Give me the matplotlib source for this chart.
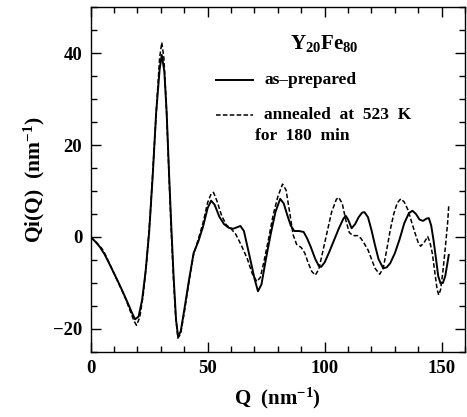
import matplotlib
matplotlib.use("Agg")
import matplotlib.pyplot as plt
from matplotlib.ticker import MultipleLocator
import numpy as np

# as-prepared (solid)
q_prep = [0, 2, 4, 6, 8, 10, 12, 14, 16, 17.5, 19, 20.5, 22, 23.5, 25, 26.5, 28, 29.5,
          30.4, 31.5, 32.5, 33.5, 34.5, 35.5, 36.5, 37.4, 38.5, 40, 42, 44, 46, 48, 50,
          51.5, 53, 55, 57, 59, 61, 62.5, 64, 65.5, 67, 68.5, 70, 71.5, 73, 75, 77, 79,
          81, 82.5, 84, 85.5, 87, 89, 91, 92.5, 94, 96, 97.5, 98.5, 100, 102, 104, 106,
          108, 109, 110, 111.5, 113, 114.5, 116, 117, 118.5, 120, 121.5, 123, 125, 126.5,
          128, 130, 132, 134, 136, 137.5, 139, 140.5, 142, 143.5, 144.5, 145.5, 146.5,
          147.5, 148.5, 149.5, 150.5, 151.5, 152.5, 153]
i_prep = [0, -1.0, -2.2, -3.8, -5.8, -7.9, -10.0, -12.2, -14.5, -16.3, -17.9, -17.3, -13.7,
          -7.5, 1.0, 13, 27, 36.5, 39.6, 36, 27, 14, 2, -9, -18, -21.7, -20.5, -15.9, -9.5,
          -3.5, -1.0, 2.2, 6.3, 7.9, 7.0, 4.4, 2.8, 2.0, 1.8, 2.1, 2.4, 1.3, -2.1, -5.5,
          -9.0, -11.8, -10.3, -4.5, 0.8, 5.5, 8.3, 7.3, 4.8, 2.5, 1.3, 1.3, 1.1, -0.3, -2.1,
          -4.8, -6.3, -6.5, -5.5, -3.2, -0.7, 1.8, 4.0, 4.6, 3.8, 1.9, 2.8, 4.3, 5.3, 5.4,
          4.3, 1.5, -1.8, -4.8, -6.8, -6.6, -5.7, -3.5, -0.5, 3.0, 5.2, 5.7, 5.0, 3.8, 3.5,
          4.0, 4.1, 2.5, -0.7, -4.5, -8.5, -10.1, -10.0, -8.5, -5.5, -3.9]

# annealed at 523 K for 180 min (dashed)
q_ann = [0, 2, 4, 5.5, 7, 9, 11, 13, 15, 17, 18.5, 19.6, 21, 22.5, 24, 25.5, 27, 28.5,
         29.5, 30.4, 31.3, 32.3, 33.3, 34.3, 35.3, 36.3, 37.3, 38.5, 40, 42, 44, 46, 48,
         50, 51.5, 52.5, 54, 56, 58, 60, 62, 63.5, 65, 67, 69, 71, 72.5, 74, 76, 78, 80,
         82, 83.5, 85, 86.5, 88, 90, 91.5, 93, 94.5, 96, 97.5, 99, 101, 103, 105, 106,
         107.5, 109, 110.5, 112, 114, 115.5, 117, 118.5, 120, 121.5, 123.5, 125, 126.5,
         128, 129.5, 131, 132.5, 134, 135.5, 137, 138.5, 140, 141, 142.5, 144, 145, 146,
         147, 148, 148.7, 149.5, 150.5, 151.5, 152.5, 153]
i_ann = [0, -0.9, -2.0, -3.0, -4.6, -6.8, -9.0, -11.2, -13.5, -16.2, -18.2, -19.2, -17.5,
         -12.5, -5, 5, 18, 31, 39, 42.3, 39, 29, 16, 3, -8, -17, -22, -21, -16.5, -9.8,
         -3.8, -0.5, 3.0, 7.5, 9.4, 9.7, 7.8, 4.6, 2.6, 1.8, 0.6, -0.9, -2.5, -4.8, -7.9,
         -9.7, -8.8, -5.5, -0.5, 4.8, 8.8, 11.5, 10.2, 5.5, 0.5, -1.6, -2.3, -3.5, -5.7,
         -7.5, -8.3, -7.0, -3.6, 1.0, 5.5, 8.2, 8.6, 7.3, 3.7, 1.0, 0.3, 0.3, -0.3, -1.5,
         -2.8, -4.8, -6.8, -8.1, -6.8, -2.8, 1.5, 5.0, 7.4, 8.3, 7.6, 6.0, 3.5, 1.0, -1.3,
         -2.0, -1.2, 0.1, -1.2, -3.6, -7.5, -11.3, -12.6, -11.5, -7.5, -2.5, 3.0, 6.7]

plt.rcParams['font.family'] = ['Liberation Serif', 'DejaVu Serif']
plt.rcParams['font.weight'] = 'bold'
plt.rcParams['mathtext.fontset'] = 'custom'
plt.rcParams['mathtext.rm'] = 'Liberation Serif:bold'
plt.rcParams['mathtext.bf'] = 'Liberation Serif:bold'
plt.rcParams['mathtext.it'] = 'Liberation Serif:bold'

fig = plt.figure(figsize=(4.67, 4.17), dpi=100)
ax = fig.add_axes([0.194, 0.156, 0.802, 0.827])

ax.plot(q_prep, i_prep, color='black', lw=1.4, ls='-')
ax.plot(q_ann, i_ann, color='black', lw=1.1, ls=(0, (3, 1.5)))

ax.set_xlim(0, 160)
ax.set_ylim(-25, 50)
ax.xaxis.set_major_locator(MultipleLocator(50))
ax.xaxis.set_minor_locator(MultipleLocator(10))
ax.yaxis.set_major_locator(MultipleLocator(20))
ax.yaxis.set_minor_locator(MultipleLocator(5))
ax.tick_params(which='both', direction='in', top=True, right=True, width=1.0)
ax.tick_params(which='major', length=7, labelsize=13.5, pad=6)
ax.tick_params(which='minor', length=4)
for s in ax.spines.values():
    s.set_linewidth(1.0)
for lab in ax.get_xticklabels() + ax.get_yticklabels():
    lab.set_fontweight('bold')

ax.set_xlabel('Q  (nm$^{-1}$)', fontsize=15, fontweight='bold', labelpad=6)
ax.set_ylabel('Qi(Q)  (nm$^{-1}$)', fontsize=15.5, fontweight='bold', labelpad=4)

# legend drawn by hand
ax.text(0.625, 0.893, 'Y$_{20}$Fe$_{80}$', transform=ax.transAxes, fontsize=15,
        fontweight='bold', ha='center', va='center')
ax.plot([0.335, 0.433], [0.79, 0.79], transform=ax.transAxes, color='black', lw=1.4)
ax.text(0.464, 0.79, 'as\u2013prepared', transform=ax.transAxes, fontsize=12.5,
        fontweight='bold', va='center')
ax.plot([0.335, 0.433], [0.688, 0.688], transform=ax.transAxes, color='black', lw=1.1,
        ls=(0, (3, 1.5)))
ax.text(0.464, 0.688, 'annealed  at  523  K', transform=ax.transAxes, fontsize=12.5,
        fontweight='bold', va='center')
ax.text(0.44, 0.625, 'for  180  min', transform=ax.transAxes, fontsize=12.5,
        fontweight='bold', va='center')

fig.savefig('out.png', dpi=100)
